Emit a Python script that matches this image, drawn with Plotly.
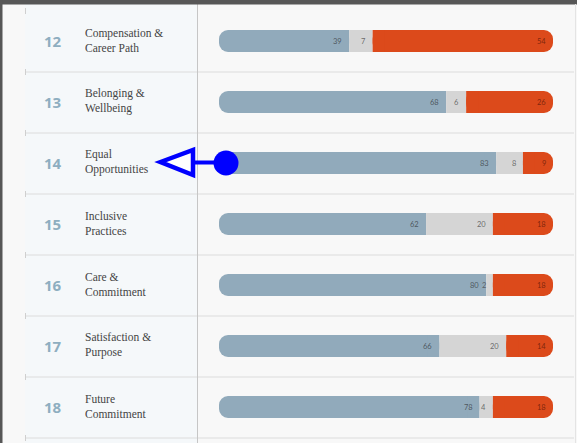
import plotly.graph_objects as go

# ---- data ----
row_numbers = ["12", "13", "14", "15", "16", "17", "18"]
row_names = [
    "Compensation &<br>Career Path",
    "Belonging &<br>Wellbeing",
    "Equal<br>Opportunities",
    "Inclusive<br>Practices",
    "Care &<br>Commitment",
    "Satisfaction &<br>Purpose",
    "Future<br>Commitment",
]
positive = [39, 68, 83, 62, 80, 66, 78]
neutral = [7, 6, 8, 20, 2, 20, 4]
negative = [54, 26, 9, 18, 18, 14, 18]

# ---- style ----
W, H = 577, 443
C_POS = "#91aabb"
C_NEU = "#d5d5d5"
C_NEG = "#dc4a1b"
BG = "#f8f8f8"
PANEL = "#f5f8fa"

# pixel mapping helpers (layout only)
BAR_X0, BAR_X1 = 219, 553
ppu = (BAR_X1 - BAR_X0) / 100.0
ROW0, ROWH = 41, 61
xr = [-BAR_X0 / ppu, (W - BAR_X0) / ppu]
yr = [(H - ROW0) / ROWH, -ROW0 / ROWH]
RAD = 9
sq = 12 / ppu  # width of squared-off inner end (covers the rounding)

def px(x):
    return x / W

def py(y):
    return 1 - y / H

ys = list(range(len(row_numbers)))
bw = 22 / ROWH
neg_start = [p + n for p, n in zip(positive, neutral)]

fig = go.Figure()

def bar(x, base, color, radius):
    fig.add_trace(go.Bar(
        y=ys, x=x, base=base, orientation="h",
        marker=dict(color=color, cornerradius=radius, line=dict(width=0)),
        width=bw, hoverinfo="skip", showlegend=False))

# positive segment (rounded outer end), with its inner end squared off
bar([-v for v in positive], positive, C_POS, RAD)
bar([-min(v, sq) for v in positive], positive, C_POS, 0)
# neutral segment
bar(neutral, positive, C_NEU, 0)
# negative segment (rounded outer end), with its inner end squared off
bar(negative, neg_start, C_NEG, RAD)
bar([min(v, sq) for v in negative], neg_start, C_NEG, 0)

shapes = []
# background panel for left column
shapes.append(dict(type="rect", xref="paper", yref="paper", x0=px(25), x1=px(197),
                   y0=0, y1=1, fillcolor=PANEL, line=dict(width=0), layer="below"))
# separators
for i in range(len(ys) + 1):
    yb = i - 0.5 + 0.5 / ROWH
    if i > 0:
        shapes.append(dict(type="line", xref="paper", yref="y", x0=px(25), x1=px(574),
                           y0=yb, y1=yb, line=dict(color="#dcdcdc", width=1), layer="below"))
    shapes.append(dict(type="line", xref="paper", yref="y", x0=px(25.5), x1=px(25.5),
                       y0=yb - 3 / ROWH, y1=yb + 3 / ROWH,
                       line=dict(color="#cfcfcf", width=1), layer="below"))
# vertical divider
shapes.append(dict(type="line", xref="paper", yref="paper", x0=px(197.5), x1=px(197.5),
                   y0=0, y1=py(4), line=dict(color="#c6c6c6", width=1), layer="below"))
# frame
shapes.append(dict(type="rect", xref="paper", yref="paper", x0=0, x1=1, y0=py(4.5), y1=1,
                   fillcolor="#575757", line=dict(width=0)))
shapes.append(dict(type="rect", xref="paper", yref="paper", x0=0, x1=px(2.5), y0=0, y1=1,
                   fillcolor="#575757", line=dict(width=0)))
shapes.append(dict(type="line", xref="paper", yref="paper", x0=px(575.5), x1=px(575.5),
                   y0=0, y1=py(4), line=dict(color="#e4e4e4", width=1)))

# blue marker arrow (overlay annotation)
BLUE = "#0000ff"
shapes.append(dict(type="line", xref="paper", yref="paper", x0=px(192), x1=px(215),
                   y0=py(162.5), y1=py(162.5), line=dict(color=BLUE, width=4)))
tri = "M {} {} L {} {} L {} {} Z".format(px(160.5), py(162), px(193), py(150), px(193), py(175))
shapes.append(dict(type="path", xref="paper", yref="paper", path=tri,
                   fillcolor="#ffffff", line=dict(color=BLUE, width=4.5)))
shapes.append(dict(type="circle", xref="paper", yref="paper",
                   x0=px(213.5), x1=px(238.5), y0=py(175.5), y1=py(150.5),
                   fillcolor=BLUE, line=dict(color=BLUE, width=0)))

annotations = []
for i in ys:
    annotations.append(dict(xref="paper", yref="y", x=px(52.5), y=i, text=row_numbers[i],
                            showarrow=False, xanchor="center", yanchor="middle",
                            font=dict(family="Open Sans", size=15, color="#8eaec0", weight="bold")))
    annotations.append(dict(xref="paper", yref="y", x=px(83), y=i, text=row_names[i],
                            showarrow=False, xanchor="left", yanchor="middle", align="left",
                            yshift=1,
                            font=dict(family="Liberation Serif", size=11.5, color="#444444")))
    ends = [positive[i], neg_start[i], 100]
    vals = [positive[i], neutral[i], negative[i]]
    cols = ["rgba(60,66,72,0.8)", "rgba(70,70,70,0.75)", "rgba(110,30,10,0.85)"]
    for e, v, c in zip(ends, vals, cols):
        annotations.append(dict(xref="x", yref="y", x=e, y=i, text=str(v), showarrow=False,
                                xanchor="right", yanchor="middle", xshift=-5,
                                font=dict(family="Lato", size=7.5, color=c)))

fig.update_layout(
    width=W, height=H, margin=dict(l=0, r=0, t=0, b=0),
    paper_bgcolor=BG, plot_bgcolor="rgba(0,0,0,0)",
    barmode="overlay",
    xaxis=dict(range=xr, visible=False, fixedrange=True),
    yaxis=dict(range=yr, visible=False, fixedrange=True),
    shapes=shapes, annotations=annotations, showlegend=False,
)

fig.write_html("out.html")
